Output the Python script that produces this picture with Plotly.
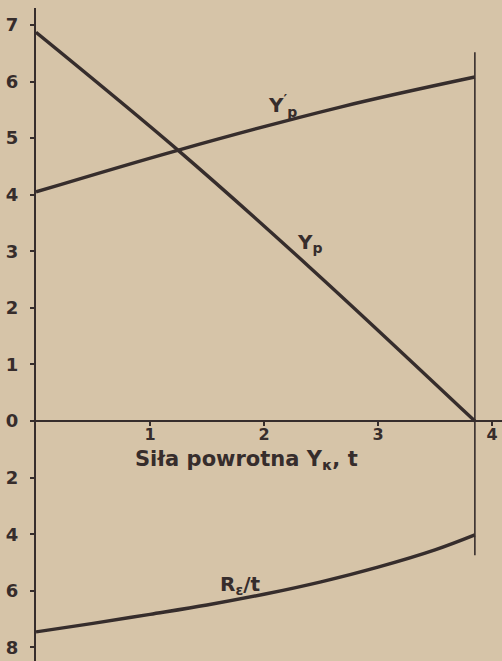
import plotly.graph_objects as go

# Restoring force Y_k [t] on the horizontal axis
x_yp = [0.0, 1.25, 2.40, 3.85]
yp = [6.87, 4.78, 2.72, 0.0]

x_ypp = [0.0, 1.25, 2.67, 3.85]
ypp = [4.05, 4.79, 5.55, 6.08]

# R_eps / t is read on the lower (half-scale) part of the vertical axis
x_r = [0.0, 0.5, 1.0, 1.5, 2.0, 2.5, 3.0, 3.5, 3.85]
r_eps = [7.45, 7.15, 6.83, 6.50, 6.12, 5.68, 5.16, 4.55, 4.02]
R_SCALE = 0.5  # one upper unit == two lower units

x_limit = 3.85
limit_top = 6.52
limit_bottom = -2.37

upper_ticks = [7, 6, 5, 4, 3, 2, 1, 0]
lower_ticks = [2, 4, 6, 8]
x_ticks = [1, 2, 3, 4]

INK = "#362d2c"
PAPER = "#d6c4a8"
FONT = "DejaVu Sans"

y_range = [-4.24, 7.30]
x_range = [0.0, 4.088]

fig = go.Figure()

line_style = dict(color=INK, width=3.4)
fig.add_trace(go.Scatter(x=x_yp, y=yp, mode="lines", line=dict(**line_style, shape="spline")))
fig.add_trace(go.Scatter(x=x_ypp, y=ypp, mode="lines", line=dict(**line_style, shape="spline")))
fig.add_trace(go.Scatter(x=x_r, y=[-v * R_SCALE for v in r_eps], mode="lines",
                         line=dict(**line_style, shape="spline")))
fig.add_trace(go.Scatter(x=[x_limit, x_limit], y=[limit_top, limit_bottom], mode="lines",
                         line=dict(color=INK, width=1.6)))

tickvals = upper_ticks + [-v * R_SCALE for v in lower_ticks]
ticktext = [str(v) for v in upper_ticks] + [str(v) for v in lower_ticks]

fig.update_layout(
    width=502, height=661,
    margin=dict(l=36, r=0, t=8, b=0),
    paper_bgcolor=PAPER, plot_bgcolor=PAPER,
    showlegend=False,
    font=dict(family=FONT, color=INK),
    xaxis=dict(
        range=x_range, showgrid=False, zeroline=False,
        showline=True, linecolor=INK, linewidth=2.4,
        anchor="free", position=(0 - y_range[0]) / (y_range[1] - y_range[0]),
        tickvals=x_ticks, ticks="outside", ticklen=4, tickwidth=2, tickcolor=INK,
        ticklabelstandoff=-5,
        tickfont=dict(family=FONT, size=16, color=INK, weight="bold"),
    ),
    yaxis=dict(
        range=y_range, showgrid=False, zeroline=False,
        showline=True, linecolor=INK, linewidth=2.4,
        tickvals=tickvals, ticktext=ticktext,
        ticks="outside", ticklen=4, tickwidth=2, tickcolor=INK,
        ticklabelstandoff=8,
        tickfont=dict(family=FONT, size=18, color=INK, weight="bold"),
    ),
)

label_font = dict(family=FONT, size=20, color=INK, weight="bold")
annotations = [
    dict(x=2.16, y=5.57, text="Y<sup>′</sup><sub>p</sub>", font=label_font),
    dict(x=2.40, y=3.15, text="Y<sub>p</sub>", font=label_font),
    dict(x=1.79, y=-2.90, text="R<sub>ε</sub>/t", font=label_font),
    dict(x=1.85, y=-0.68, text="Siła powrotna Y<sub>κ</sub>, t",
         font=dict(family=FONT, size=21, color=INK, weight="bold")),
]
for a in annotations:
    fig.add_annotation(xref="x", yref="y", showarrow=False, **a)

fig.write_html("out.html")
